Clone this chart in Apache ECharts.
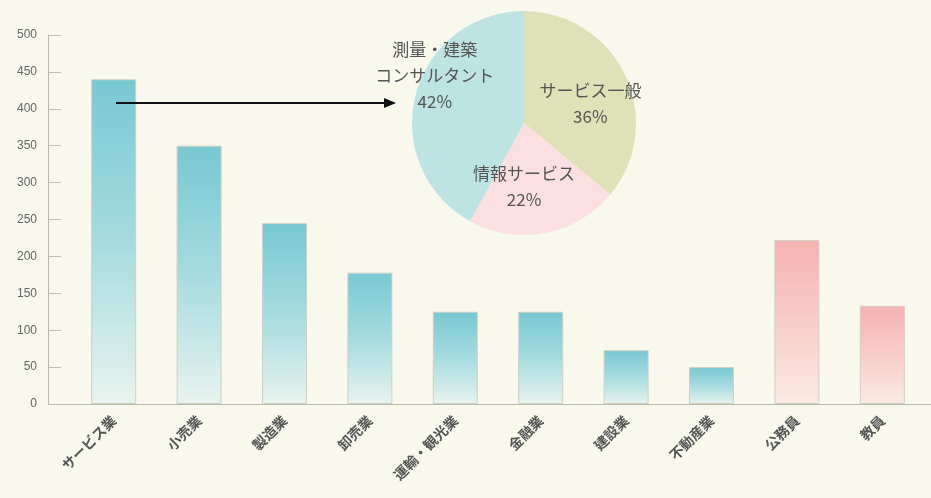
<!DOCTYPE html>
<html>
<head>
<meta charset="utf-8">
<script src="https://cdn.jsdelivr.net/npm/echarts@6/dist/echarts.min.js"></script>
<style>
html,body{margin:0;padding:0;background:#f8f8ec;}
#c{width:931px;height:498px;}
</style>
</head>
<body>
<div id="c"></div>
<script>
const categories = ['サービス業','小売業','製造業','卸売業','運輸・観光業','金融業','建設業','不動産業','公務員','教員'];
const barValues = [440, 350, 245, 178, 125, 125, 73, 50, 222, 133];
const barGroup = ['t','t','t','t','t','t','t','t','p','p'];
const yTicks = [0, 500, 50];
const pieNames = ['サービス一般','情報サービス','測量・建築\nコンサルタント'];
const pieValues = [36, 22, 42];

const FONT = '"Noto Sans CJK JP","Noto Sans",sans-serif';
const teal = {type:'linear',x:0,y:0,x2:0,y2:1,colorStops:[{offset:0,color:'#78c8d2'},{offset:0.5,color:'#a6dbe0'},{offset:1,color:'#e8f3ee'}]};
const pink = {type:'linear',x:0,y:0,x2:0,y2:1,colorStops:[{offset:0,color:'#f6b2b2'},{offset:0.5,color:'#f8cdc8'},{offset:1,color:'#fbeae2'}]};
const pieColors = ['#dfe2b8','#fbdfe1','#bde3e3'];
const pieLabelShift = [[13,6],[-11,6],[-32,-33]];

const chart = echarts.init(document.getElementById('c'));
chart.setOption({
  backgroundColor:'#f8f8ec',
  animation:false,
  grid:{left:71,right:6,top:35,bottom:94},
  xAxis:{
    type:'category',data:categories,
    axisLine:{lineStyle:{color:'#b9b9aa',width:1}},
    axisTick:{inside:true,length:7,lineStyle:{color:'#c0c0b0'}},
    axisLabel:{rotate:45,interval:0,fontSize:14,color:'#555',fontFamily:FONT,fontWeight:'bold',margin:14}
  },
  yAxis:{
    type:'value',min:yTicks[0],max:yTicks[1],interval:yTicks[2],offset:23,
    axisLine:{show:true,lineStyle:{color:'#b9b9aa'}},
    axisTick:{show:true,inside:true,length:13,lineStyle:{color:'#c0c0b0'}},
    splitLine:{show:false},
    axisLabel:{fontSize:12,color:'#666',fontFamily:'"Liberation Sans",Arial,sans-serif',margin:11}
  },
  series:[
    {
      type:'bar',barWidth:45,
      data:barValues.map((v,i)=>({value:v,itemStyle:{color:barGroup[i]==='p'?pink:teal}})),
      itemStyle:{borderColor:'#cfcfc4',borderWidth:1}
    },
    {
      type:'pie',center:[524,123],radius:112,startAngle:90,clockwise:true,
      data:pieNames.map((n,i)=>({name:n,value:pieValues[i],itemStyle:{color:pieColors[i]}})),
      label:{position:'inner',formatter:'{b}\n{d}%',fontSize:17,lineHeight:26,color:'#555',fontFamily:FONT},
      labelLayout:function(p){const s=pieLabelShift[p.dataIndex];return {dx:s[0],dy:s[1]};},
      labelLine:{show:false},
      emphasis:{disabled:true}
    }
  ],
  graphic:[
    {type:'line',shape:{x1:48,y1:404.5,x2:931,y2:404.5},style:{stroke:'#b9b9aa',lineWidth:1},z:0},
    {type:'line',shape:{x1:116,y1:103,x2:386,y2:103},style:{stroke:'#111',lineWidth:2},z:100},
    {type:'polygon',shape:{points:[[384,98],[396,103],[384,108]]},style:{fill:'#111'},z:100}
  ]
});
</script>
</body>
</html>
